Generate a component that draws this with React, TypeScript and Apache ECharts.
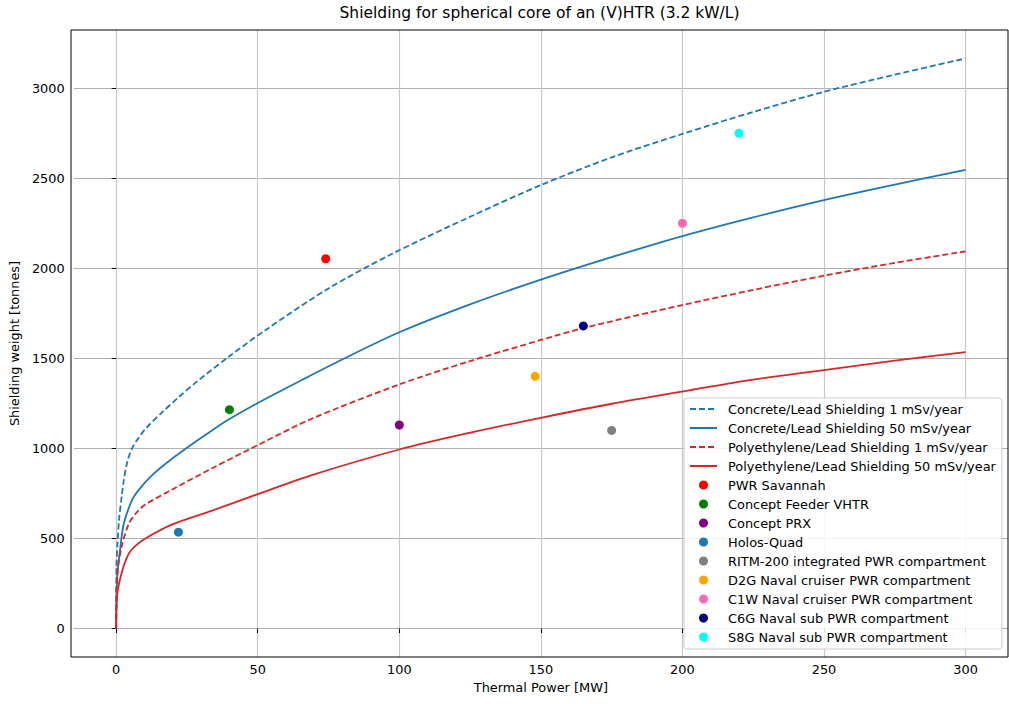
import React, { useEffect, useRef } from "react";
import * as echarts from "echarts";

// Curves
const c1X = [0, 0.1, 0.5, 1, 2, 2.7, 4, 5.6, 7.5, 10.3, 16.2, 22.1, 28.6, 40, 53.2, 75, 97.3, 125, 150, 175, 200, 225, 250, 275, 300];
const c1Y = [0, 342, 480, 602, 740, 824, 930, 1000, 1050, 1108, 1200, 1285, 1372, 1512, 1662, 1888, 2079, 2286, 2462, 2616, 2746, 2868, 2980, 3075, 3165];

const c50X = [0, 0.3, 1.5, 2.7, 5.6, 8, 12.6, 18, 24.4, 32, 39.7, 50, 65.6, 80, 100, 125, 150, 175, 200, 225, 250, 275, 300];
const c50Y = [0, 268, 453, 583, 713, 770, 850, 922, 997, 1080, 1160, 1252, 1380, 1495, 1645, 1800, 1937, 2062, 2179, 2283, 2379, 2465, 2546];

const p1X = [0, 0.5, 2.2, 4.5, 7, 10.3, 19.8, 33.9, 51.5, 69.1, 100, 125, 150, 165, 200, 225, 250, 275, 300];
const p1Y = [0, 324, 472, 583, 640, 688, 772, 890, 1030, 1165, 1355, 1485, 1602, 1668, 1796, 1880, 1959, 2030, 2094];

const p50X = [0, 0.4, 2.2, 4.5, 7, 10.3, 19.8, 33.9, 51.5, 69.1, 100, 125, 150, 175, 203, 225, 250, 275, 300];
const p50Y = [0, 194, 324, 417, 462, 500, 578, 655, 755, 852, 994, 1087, 1170, 1248, 1324, 1382, 1435, 1487, 1535];

const curveNames = [
  "Concrete/Lead Shielding 1 mSv/year",
  "Concrete/Lead Shielding 50 mSv/year",
  "Polyethylene/Lead Shielding 1 mSv/year",
  "Polyethylene/Lead Shielding 50 mSv/year",
];

// Reactor points
const reactorNames = [
  "PWR Savannah",
  "Concept Feeder VHTR",
  "Concept PRX",
  "Holos-Quad",
  "RITM-200 integrated PWR compartment",
  "D2G Naval cruiser PWR compartment",
  "C1W Naval cruiser PWR compartment",
  "C6G Naval sub PWR compartment",
  "S8G Naval sub PWR compartment",
];
const reactorPower = [74, 40, 100, 22, 175, 148, 200, 165, 220];
const reactorWeight = [2053, 1215, 1130, 535, 1100, 1400, 2250, 1680, 2750];
const reactorColors = ["#ff0000", "#008000", "#800080", "#1f77b4", "#808080", "#ffa500", "#ff69b4", "#000080", "#00ffff"];

const xTicks = [0, 50, 100, 150, 200, 250, 300];
const yTicks = [0, 500, 1000, 1500, 2000, 2500, 3000];

const FONT = "DejaVu Sans";
const FS = 12.9;

function pairs(xs: number[], ys: number[]) {
  return xs.map((x, i) => [x, ys[i]]);
}

export default function App() {
  const ref = useRef<HTMLDivElement>(null);
  useEffect(() => {
    if (!ref.current) return;
    const chart = echarts.init(ref.current, null, { renderer: "svg" });
    const curveData = [pairs(c1X, c1Y), pairs(c50X, c50Y), pairs(p1X, p1Y), pairs(p50X, p50Y)];
    const curveColors = ["#1f77b4", "#1f77b4", "#d62728", "#d62728"];
    const curveDash: any[] = [[6, 3], "solid", [6, 3], "solid"];
    const series: any[] = [];
    curveNames.forEach((n, i) => {
      series.push({
        name: n,
        type: "line",
        data: curveData[i],
        symbol: "none",
        showSymbol: false,
        smooth: 0.3,
        lineStyle: { color: curveColors[i], width: 1.8, type: curveDash[i] },
        itemStyle: { color: curveColors[i] },
        z: 3,
      });
    });
    reactorNames.forEach((n, i) => {
      series.push({
        name: n,
        type: "scatter",
        data: [[reactorPower[i], reactorWeight[i]]],
        symbol: "circle",
        symbolSize: 9,
        itemStyle: { color: reactorColors[i], opacity: 1 },
        z: 4,
      });
    });
    chart.setOption({
      animation: false,
      title: {
        text: "Shielding for spherical core of an (V)HTR (3.2 kW/L)",
        left: 539.5,
        top: 5,
        padding: 0,
        textAlign: "center",
        textStyle: { fontFamily: FONT, fontSize: 15.5, fontWeight: "normal", color: "#000" },
      },
      grid: { left: 71, top: 30, right: 1, bottom: 47, containLabel: false },
      xAxis: {
        type: "value",
        min: -15,
        max: 315,
        name: "Thermal Power [MW]",
        nameLocation: "middle",
        nameGap: 22,
        nameTextStyle: { fontFamily: FONT, fontSize: FS, color: "#000" },
        axisLine: { show: false },
        axisTick: { show: true, inside: false, length: 4.5, customValues: xTicks, lineStyle: { color: "#000" } },
        axisLabel: { customValues: xTicks, formatter: (v: number) => String(v), fontFamily: FONT, fontSize: FS, color: "#000", margin: 6 },
        splitLine: { show: true, lineStyle: { color: "#c8c8c8", width: 1.2 } },
      },
      yAxis: {
        type: "value",
        min: -158,
        max: 3323,
        name: "Shielding weight [tonnes]",
        nameLocation: "middle",
        nameGap: 48,
        nameTextStyle: { fontFamily: FONT, fontSize: FS, color: "#000" },
        axisLine: { show: false },
        axisTick: { show: true, inside: false, length: 4.5, customValues: yTicks, lineStyle: { color: "#000" } },
        axisLabel: { customValues: yTicks, formatter: (v: number) => String(v), fontFamily: FONT, fontSize: FS, color: "#000", margin: 9 },
        splitLine: { show: true, lineStyle: { color: "#b0b0b0", width: 1 } },
      },
      legend: {
        orient: "vertical",
        left: 684,
        top: 398,
        padding: [3.5, 6, 4.5, 5],
        itemWidth: 27,
        itemHeight: 9,
        itemGap: 4,
        backgroundColor: "rgba(255,255,255,0.85)",
        borderColor: "#cccccc",
        borderWidth: 1,
        borderRadius: 3,
        textStyle: { fontFamily: FONT, fontSize: FS, lineHeight: 15, color: "#000", padding: [0, 0, 0, 6] },
        data: [
          ...curveNames.map((n) => ({ name: n, itemStyle: { opacity: 0 } })),
          ...reactorNames.map((n) => ({ name: n, icon: "circle" })),
        ],
      },
      graphic: [
        {
          type: "rect",
          shape: { x: 71, y: 30, width: 937, height: 627 },
          style: { fill: "none", stroke: "#000", lineWidth: 1 },
          z: 100,
          silent: true,
        },
      ],
      series,
    });
    return () => chart.dispose();
  }, []);
  return <div ref={ref} style={{ position: "absolute", left: 0, top: 0, width: 1009, height: 704 }} />;
}
